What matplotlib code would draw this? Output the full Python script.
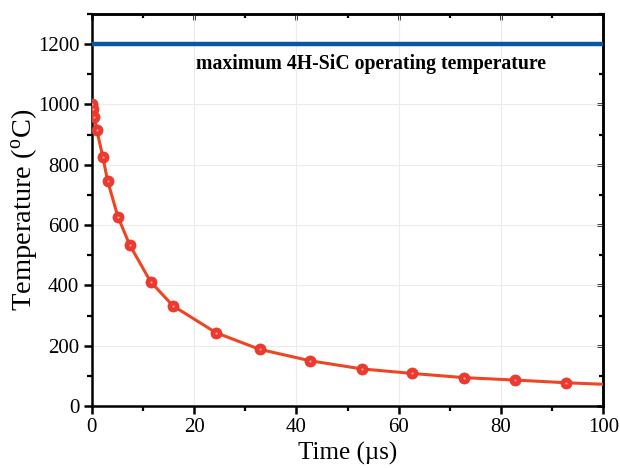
import matplotlib
matplotlib.use("Agg")
import matplotlib.pyplot as plt
from matplotlib.ticker import MultipleLocator

plt.rcParams['font.family'] = ['Liberation Serif', 'DejaVu Serif']
plt.rcParams['mathtext.fontset'] = 'custom'
plt.rcParams['mathtext.rm'] = 'Liberation Serif'
plt.rcParams['mathtext.it'] = 'Liberation Serif:italic'

time_us = [0.0, 0.2, 0.5, 1.0, 2.15, 3.1, 5.1, 7.4, 11.5, 15.9, 24.3, 32.8, 42.7, 52.8, 62.6, 72.8, 82.8, 92.8]
temp_c = [1000, 985, 960, 914, 827, 747, 628, 535, 412, 332, 243, 188, 150, 123, 108, 94, 86, 77]
line_end_t = [100]
line_end_T = [72]
max_temp = 1200
label_text = "maximum 4H-SiC operating temperature"

fig = plt.figure(figsize=(6.2, 4.68), dpi=100)
ax = fig.add_axes([0.148, 0.1325, 0.825, 0.8375])

ax.grid(True, color='#ececec', linewidth=0.8, zorder=0)
ax.axhline(max_temp, color='#0a56a0', linewidth=3.2, zorder=3)
ax.text(20.3, 1133, label_text, fontsize=14.2, fontweight='bold', va='center', ha='left', zorder=4)

ax.plot(time_us + line_end_t, temp_c + line_end_T, color='#ee4523', linewidth=2.2, zorder=4)
ax.plot(time_us, temp_c, linestyle='none', marker='o', markersize=8,
        markerfacecolor='#ec3b2e', markeredgecolor='#e53528', markeredgewidth=0.5, zorder=5)
ax.plot(time_us, temp_c, linestyle='none', marker='o', markersize=1.5,
        markerfacecolor='#f8a6bd', markeredgecolor='none', zorder=6)

ax.set_xlim(0, 100)
ax.set_ylim(0, 1300)
ax.xaxis.set_major_locator(MultipleLocator(20))
ax.xaxis.set_minor_locator(MultipleLocator(10))
ax.yaxis.set_major_locator(MultipleLocator(200))
ax.yaxis.set_minor_locator(MultipleLocator(100))
ax.set_yticks([0, 200, 400, 600, 800, 1000, 1200])

ax.tick_params(which='major', direction='out', length=6, width=1.8, labelsize=15, pad=3)
ax.tick_params(which='minor', direction='out', length=3.5, width=1.6)
for sp in ax.spines.values():
    sp.set_linewidth(1.8)

secx = ax.secondary_xaxis('top')
secx.xaxis.set_major_locator(MultipleLocator(20))
secx.xaxis.set_minor_locator(MultipleLocator(10))
secx.tick_params(which='major', direction='in', length=4, width=1.8, labeltop=False)
secx.tick_params(which='minor', direction='in', length=3, width=1.6)
secx.spines['top'].set_linewidth(1.8)

secy = ax.secondary_yaxis('right')
secy.yaxis.set_major_locator(MultipleLocator(200))
secy.yaxis.set_minor_locator(MultipleLocator(100))
secy.tick_params(which='major', direction='in', length=4.5, width=1.8, labelright=False)
secy.tick_params(which='minor', direction='in', length=3, width=1.6)
secy.spines['right'].set_linewidth(1.8)

ax.set_xlabel('Time (\u00b5s)', fontsize=18, labelpad=3)
ax.set_ylabel('Temperature ($\\mathrm{^{o}}$C)', fontsize=20.5)
ax.yaxis.set_label_coords(-0.133, 0.5)
ax.yaxis.label.set_va('center')

fig.savefig('out.png', dpi=100)
